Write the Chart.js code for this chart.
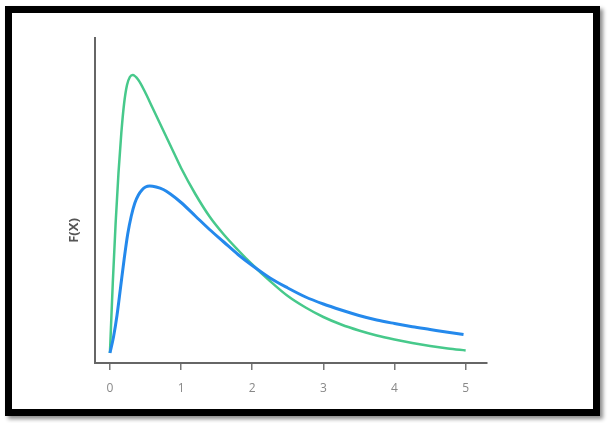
<!DOCTYPE html>
<html>
<head>
<meta charset="utf-8">
<script src="https://cdn.jsdelivr.net/npm/chart.js@4"></script>
<style>
    html, body { margin: 0; padding: 0; background: #fff; }
    body { width: 613px; height: 423px; position: relative; overflow: hidden; }
    .frame {
        position: absolute; left: 5px; top: 6px; width: 581px; height: 396px;
        border: 7px solid #000; box-shadow: 3px 3px 4px rgba(0,0,0,0.45);
    }
    #chart { position: absolute; left: 0; top: 0; }
</style>
</head>
<body>
<div class="frame"></div>
<canvas id="chart" width="613" height="423"></canvas>
<script>
    "use strict";

    // Curve samples
    var blueX = [0, 0.05, 0.1, 0.15, 0.2, 0.25, 0.3, 0.35, 0.4, 0.45, 0.5, 0.56, 0.65, 0.75, 0.85, 1.0, 1.2, 1.4, 1.6, 1.8, 2.0, 2.25, 2.5, 2.75, 3.0, 3.25, 3.5, 3.75, 4.0, 4.25, 4.5, 4.75, 4.97];
    var blueY = [0.10, 0.26, 0.48, 0.76, 1.04, 1.29, 1.47, 1.60, 1.68, 1.73, 1.76, 1.77, 1.76, 1.735, 1.69, 1.605, 1.47, 1.335, 1.21, 1.085, 0.975, 0.85, 0.75, 0.66, 0.59, 0.53, 0.475, 0.43, 0.395, 0.363, 0.335, 0.307, 0.285];
    var greenX = [0, 0.04, 0.08, 0.12, 0.16, 0.2, 0.24, 0.28, 0.32, 0.4, 0.5, 0.6, 0.7, 0.8, 0.9, 1.0, 1.2, 1.4, 1.6, 1.8, 2.0, 2.25, 2.5, 2.75, 3.0, 3.25, 3.5, 3.75, 4.0, 4.25, 4.5, 4.75, 5.0];
    var greenY = [0.10, 0.80, 1.40, 1.90, 2.30, 2.60, 2.78, 2.86, 2.88, 2.83, 2.70, 2.55, 2.40, 2.25, 2.10, 1.95, 1.69, 1.465, 1.285, 1.13, 0.985, 0.82, 0.67, 0.555, 0.46, 0.385, 0.325, 0.275, 0.235, 0.20, 0.17, 0.145, 0.125];
    var xTicks = [0, 1, 2, 3, 4, 5];

    function toPoints(xs, ys) {
        return xs.map(function (x, i) { return {x: x, y: ys[i]}; });
    }

    var ctx = document.getElementById("chart").getContext("2d");
    var myChart = new Chart(ctx, {
        type: "line",
        data: {
            datasets: [{
                    label: "blue",
                    data: toPoints(blueX, blueY),
                    borderColor: "#2489ec",
                    borderWidth: 3,
                    pointRadius: 0,
                    cubicInterpolationMode: "monotone"
                },
                {
                    label: "green",
                    data: toPoints(greenX, greenY),
                    borderColor: "#47c98b",
                    borderWidth: 2.5,
                    pointRadius: 0,
                    cubicInterpolationMode: "monotone"
                }
            ]
        },
        options: {
            responsive: false,
            animation: false,
            layout: { padding: { left: 0, top: 38, right: 126, bottom: 0 } },
            plugins: {
                legend: { display: false },
                tooltip: { enabled: false },
                title: {
                    display: true,
                    text: "F(X)",
                    position: "left",
                    color: "#555",
                    font: { family: "Open Sans", size: 13, weight: "bold", lineHeight: 1.2 },
                    padding: { top: 66, bottom: 0 }
                }
            },
            scales: {
                x: {
                    type: "linear",
                    min: -0.21,
                    max: 5.3,
                    afterFit: function (scale) { scale.height = 60; },
                    afterBuildTicks: function (scale) {
                        scale.ticks = xTicks.map(function (v) { return {value: v}; });
                    },
                    border: { display: true, color: "#666", width: 2 },
                    grid: { drawOnChartArea: false, drawTicks: true, tickLength: 7, color: "#777", lineWidth: 1.5 },
                    ticks: {
                        color: "#888",
                        padding: 11,
                        maxRotation: 0,
                        font: { family: "Open Sans", size: 12 }
                    }
                },
                y: {
                    min: 0,
                    max: 3.25,
                    afterFit: function (scale) { scale.width = 13.4; },
                    border: { display: true, color: "#666", width: 2 },
                    grid: { display: false },
                    ticks: { display: false }
                }
            }
        }
    });
</script>
</body>
</html>
